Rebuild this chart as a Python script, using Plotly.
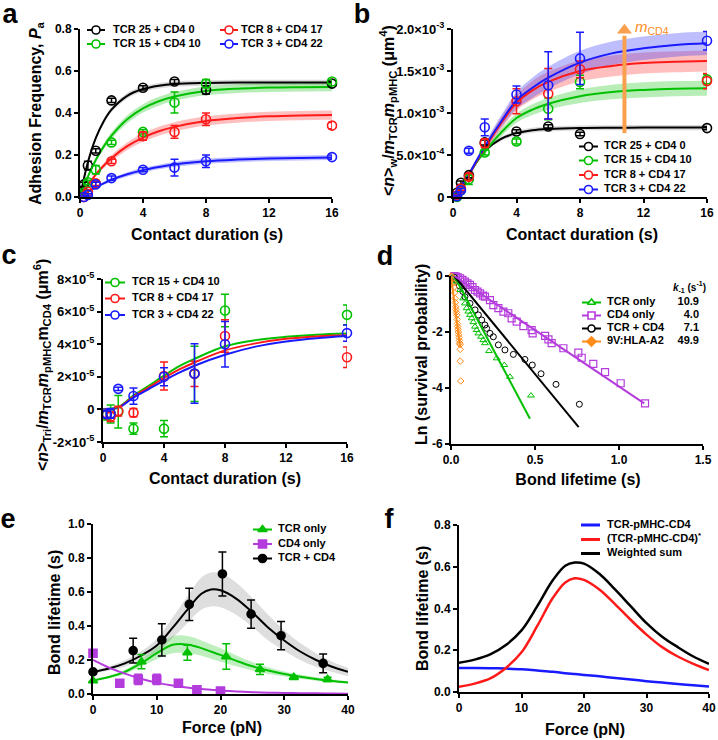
import numpy as np
import plotly.graph_objects as go

W, H = 718, 740
FONT = "Liberation Sans, Arial, Helvetica, sans-serif"

BLACK = "#000000"
GREEN = "#00C000"
RED = "#FF1A1A"
BLUE = "#1A1AFF"
PURPLE = "#B43CDC"
ORANGE = "#FF8C1A"
ARROWC = "#F9A04E"

# ---------------- Panel a : adhesion frequency ----------------
a_t = [0.25, 0.5, 1, 2, 4, 6, 8, 16]
a_black = [0.06, 0.15, 0.22, 0.46, 0.52, 0.55, 0.51, 0.54]
a_black_err = [0.01, 0.02, 0.01, 0.01, 0.01, 0.01, 0.02, 0.01]
a_green = [0.02, 0.07, 0.13, 0.26, 0.31, 0.45, 0.54, 0.55]
a_green_err = [0.01, 0.01, 0.02, 0.01, 0.01, 0.05, 0.02, 0.01]
a_red = [0.0, 0.025, 0.065, 0.17, 0.29, 0.31, 0.37, 0.34]
a_red_err = [0.005, 0.01, 0.01, 0.01, 0.02, 0.03, 0.03, 0.015]
a_blue = [0.0, 0.01, 0.06, 0.09, 0.13, 0.14, 0.17, 0.19]
a_blue_err = [0.005, 0.005, 0.01, 0.01, 0.01, 0.04, 0.03, 0.01]

a_fit_t = [0, 0.5, 1, 1.5, 2, 3, 4, 5, 6, 8, 10, 12, 14, 16]
a_fit_black = [0, 0.165, 0.280, 0.360, 0.416, 0.482, 0.514, 0.530, 0.538, 0.543, 0.545, 0.545, 0.545, 0.545]
a_fit_green = [0, 0.097, 0.176, 0.240, 0.292, 0.370, 0.422, 0.456, 0.479, 0.505, 0.516, 0.521, 0.523, 0.524]
a_fit_red = [0, 0.058, 0.107, 0.149, 0.185, 0.242, 0.283, 0.313, 0.334, 0.362, 0.376, 0.384, 0.388, 0.390]
a_fit_blue = [0, 0.025, 0.046, 0.065, 0.082, 0.108, 0.128, 0.143, 0.155, 0.170, 0.178, 0.183, 0.186, 0.188]
a_band_black = [0, 0.004, 0.008, 0.010, 0.012, 0.013, 0.013, 0.013, 0.013, 0.013, 0.013, 0.013, 0.013, 0.013]
a_band_green = [0, 0.005, 0.010, 0.013, 0.016, 0.019, 0.020, 0.021, 0.021, 0.021, 0.021, 0.021, 0.021, 0.021]
a_band_red = [0, 0.005, 0.009, 0.012, 0.015, 0.018, 0.020, 0.021, 0.022, 0.022, 0.022, 0.022, 0.022, 0.022]
a_band_blue = [0, 0.003, 0.005, 0.007, 0.008, 0.010, 0.011, 0.011, 0.012, 0.012, 0.012, 0.012, 0.012, 0.012]

# ---------------- Panel b : <n>w / mTCR mpMHC (x1e-3 um^4) ----------------
b_t = [0.25, 0.5, 1, 2, 4, 6, 8, 16]
b_black = [0.05, 0.17, 0.26, 0.65, 0.78, 0.84, 0.75, 0.82]
b_black_err = [0.01, 0.02, 0.03, 0.03, 0.02, 0.02, 0.02, 0.02]
b_green = [0.0, 0.08, 0.21, 0.53, 0.66, 1.05, 1.37, 1.40]
b_green_err = [0.01, 0.02, 0.06, 0.03, 0.03, 0.13, 0.08, 0.06]
b_red = [0.02, 0.10, 0.24, 0.64, 1.14, 1.23, 1.52, 1.38]
b_red_err = [0.01, 0.02, 0.04, 0.05, 0.15, 0.30, 0.10, 0.09]
b_blue = [0.01, 0.08, 0.55, 0.83, 1.22, 1.33, 1.65, 1.86]
b_blue_err = [0.01, 0.02, 0.03, 0.10, 0.10, 0.40, 0.31, 0.11]

b_fit_t = [0, 0.5, 1, 1.5, 2, 3, 4, 5, 6, 8, 10, 12, 14, 16]
b_fit_black = [0, 0.13, 0.27, 0.42, 0.55, 0.69, 0.76, 0.795, 0.81, 0.822, 0.825, 0.826, 0.826, 0.826]
b_fit_green = [0, 0.13, 0.27, 0.42, 0.54, 0.76, 0.94, 1.04, 1.11, 1.20, 1.25, 1.275, 1.29, 1.295]
b_fit_red = [0, 0.13, 0.27, 0.43, 0.58, 0.87, 1.12, 1.27, 1.37, 1.50, 1.56, 1.595, 1.61, 1.62]
b_fit_blue = [0, 0.13, 0.27, 0.44, 0.60, 0.89, 1.15, 1.30, 1.42, 1.60, 1.71, 1.77, 1.81, 1.83]
b_band_black = [0, 0.005, 0.01, 0.015, 0.02, 0.025, 0.03, 0.03, 0.03, 0.03, 0.03, 0.03, 0.03, 0.03]
b_band_green = [0, 0.005, 0.01, 0.02, 0.03, 0.045, 0.055, 0.065, 0.07, 0.08, 0.085, 0.09, 0.09, 0.09]
b_band_red = [0, 0.005, 0.01, 0.02, 0.04, 0.07, 0.09, 0.11, 0.12, 0.125, 0.125, 0.125, 0.125, 0.125]
b_band_blue = [0, 0.005, 0.01, 0.02, 0.04, 0.07, 0.10, 0.12, 0.13, 0.14, 0.14, 0.14, 0.14, 0.14]
b_arrow_t = [10.8, 10.8]
b_arrow_y = [0.76, 1.92]
b_arrow_tip_y = [1.985]

# ---------------- Panel c : <n>Tri / (mTCR mpMHC mCD4)  (x1e-5 um^6) ----------------
c_t = [0.25, 0.5, 1, 2, 4, 6, 8, 16]
c_green = [-0.35, -0.28, -0.14, -1.18, -1.18, 2.18, 6.07, 5.80]
c_green_err = [0.3, 0.55, 1.0, 0.35, 0.5, 1.7, 1.0, 0.6]
c_red = [-0.3, -0.45, -0.1, -0.2, 2.05, 2.18, 4.50, 3.20]
c_red_err = [0.2, 0.3, 0.3, 0.25, 0.86, 0.78, 1.0, 0.63]
c_blue = [-0.3, -0.25, 1.26, 0.82, 2.0, 2.2, 4.0, 4.68]
c_blue_err = [0.2, 0.3, 0.1, 0.5, 0.55, 1.83, 1.4, 0.5]

c_fit_t = [0, 1, 2, 3, 4, 5, 6, 8, 10, 12, 14, 16]
c_fit_green = [0, 0.15, 0.85, 1.45, 2.07, 2.65, 3.10, 3.87, 4.25, 4.45, 4.58, 4.65]
c_fit_red = [0, 0.12, 0.78, 1.35, 1.93, 2.45, 2.88, 3.62, 4.05, 4.33, 4.48, 4.55]
c_fit_blue = [0, 0.10, 0.72, 1.25, 1.77, 2.25, 2.68, 3.35, 3.85, 4.17, 4.37, 4.50]

# ---------------- Panel d : survival curves ----------------
d_green_x = [0.01, 0.02, 0.034, 0.054, 0.073, 0.083, 0.093, 0.103, 0.113, 0.123, 0.133, 0.143,
             0.153, 0.163, 0.179, 0.192, 0.202, 0.226, 0.272, 0.317, 0.351, 0.476]
d_green_y = [-0.03, -0.08, -0.20, -0.50, -0.80, -0.98, -1.15, -1.27, -1.39, -1.51, -1.65, -1.81,
             -1.93, -2.05, -2.17, -2.29, -2.40, -2.68, -2.94, -3.18, -3.60, -4.27]
d_black_x = [0.02, 0.03, 0.05, 0.07, 0.083, 0.113, 0.143, 0.163, 0.183, 0.202, 0.212, 0.232, 0.252,
             0.282, 0.321, 0.371, 0.440, 0.484, 0.536, 0.625, 0.764]
d_black_y = [-0.05, -0.15, -0.35, -0.55, -0.74, -0.98, -1.21, -1.39, -1.57, -1.75, -1.87, -2.05, -2.17,
             -2.46, -2.64, -2.80, -2.98, -3.18, -3.49, -3.87, -4.58]
d_purple_x = [0.02, 0.03, 0.04, 0.054, 0.068, 0.083, 0.098, 0.113, 0.128, 0.143, 0.158, 0.173, 0.19,
              0.202, 0.232, 0.252, 0.282, 0.312, 0.341, 0.361, 0.391, 0.431, 0.480, 0.486, 0.560,
              0.580, 0.599, 0.669, 0.758, 0.778, 0.847, 0.917, 1.010, 1.155]
d_purple_y = [0.0, -0.02, -0.05, -0.08, -0.14, -0.20, -0.26, -0.32, -0.40, -0.50, -0.56, -0.62, -0.70,
              -0.74, -0.86, -1.04, -1.15, -1.27, -1.33, -1.51, -1.63, -1.79, -1.93, -2.05, -2.14,
              -2.26, -2.40, -2.58, -2.74, -2.92, -3.14, -3.43, -3.83, -4.55]
d_orange_x = [0.0, 0.005, 0.010, 0.015, 0.018, 0.021, 0.024, 0.026, 0.028, 0.030, 0.032, 0.034, 0.036,
              0.038, 0.040, 0.042, 0.044, 0.046, 0.048, 0.050, 0.052, 0.054, 0.055, 0.055, 0.058]
d_orange_y = [0.0, -0.02, -0.10, -0.25, -0.40, -0.60, -0.80, -0.95, -1.10, -1.20, -1.30, -1.40, -1.55,
              -1.70, -1.80, -1.90, -2.00, -2.10, -2.20, -2.30, -2.40, -2.45, -2.62, -3.04, -3.75]
d_green_fit_x = [0.02, 0.47]
d_green_fit_y = [0.0, -5.1]
d_black_fit_x = [0.02, 0.76]
d_black_fit_y = [0.0, -5.4]
d_purple_fit_x = [0.02, 1.15]
d_purple_fit_y = [0.0, -4.55]
d_orange_fit_x = [0.0, 0.054]
d_orange_fit_y = [0.0, -2.52]
d_names = ["TCR only", "CD4 only", "TCR + CD4", "9V:HLA-A2"]
d_koff = ["10.9", "4.0", "7.1", "49.9"]

# ---------------- Panel e : bond lifetime vs force ----------------
e_black_x = [0, 6.3, 10.8, 15.1, 20.3, 24.8, 29.5, 36.1]
e_black_y = [0.13, 0.255, 0.318, 0.527, 0.706, 0.47, 0.343, 0.18]
e_black_err = [0.01, 0.073, 0.095, 0.095, 0.13, 0.083, 0.083, 0.055]
e_green_x = [0, 7.6, 14.8, 20.9, 26.2, 31.5, 36.8]
e_green_y = [0.078, 0.19, 0.243, 0.22, 0.145, 0.098, 0.086]
e_green_err = [0.005, 0.042, 0.044, 0.075, 0.03, 0.008, 0.012]
e_purple_x = [0, 4.2, 7.1, 10.0, 13.4, 16.3, 20.0]
e_purple_y = [0.24, 0.063, 0.086, 0.086, 0.063, 0.024, 0.018]
e_purple_err = [0.01, 0.005, 0.03, 0.03, 0.01, 0.005, 0.005]

ef_fit_f = [0, 2.5, 5, 7.5, 10, 12.5, 15, 17, 18.5, 20, 22.5, 25, 27.5, 30, 32.5, 35, 37.5, 40]
e_fit_black = [0.13, 0.15, 0.18, 0.225, 0.285, 0.39, 0.505, 0.59, 0.615, 0.61, 0.56, 0.48, 0.39,
               0.315, 0.25, 0.20, 0.16, 0.13]
e_fit_green = [0.08, 0.10, 0.13, 0.18, 0.24, 0.29, 0.29, 0.27, 0.25, 0.23, 0.195, 0.163, 0.138,
               0.118, 0.102, 0.088, 0.077, 0.068]
e_fit_purple = [0.20, 0.155, 0.12, 0.09, 0.067, 0.05, 0.037, 0.03, 0.025, 0.02, 0.015, 0.011, 0.008,
                0.006, 0.005, 0.004, 0.003, 0.002]
e_band_black = [0.01, 0.012, 0.018, 0.025, 0.04, 0.06, 0.08, 0.095, 0.10, 0.10, 0.095, 0.085, 0.075,
                0.06, 0.05, 0.04, 0.03, 0.025]
e_band_green = [0.005, 0.008, 0.012, 0.02, 0.035, 0.05, 0.05, 0.045, 0.042, 0.04, 0.032, 0.025, 0.02,
                0.015, 0.012, 0.01, 0.008, 0.007]

# ---------------- Panel f : model curves ----------------
f_blue = [0.115, 0.115, 0.114, 0.112, 0.109, 0.103, 0.097, 0.090, 0.086, 0.082, 0.075, 0.067, 0.060,
          0.052, 0.045, 0.038, 0.032, 0.026]
f_red = [0.025, 0.04, 0.065, 0.115, 0.19, 0.315, 0.45, 0.525, 0.545, 0.537, 0.49, 0.42, 0.345,
         0.275, 0.215, 0.17, 0.135, 0.105]
f_black = [0.14, 0.155, 0.18, 0.225, 0.295, 0.41, 0.535, 0.605, 0.62, 0.615, 0.565, 0.49, 0.41,
           0.33, 0.265, 0.215, 0.17, 0.135]

# tick labels
ticks_t = [0, 4, 8, 12, 16]
ticks_t_text = ["0", "4", "8", "12", "16"]
a_yticks = [0, 0.2, 0.4, 0.6, 0.8]
a_yticks_text = ["0.0", "0.2", "0.4", "0.6", "0.8"]
b_yticks = [0, 0.5, 1.0, 1.5, 2.0]
b_yticks_text = ["0", "5.0×10<sup>-4</sup>", "1.0×10<sup>-3</sup>", "1.5×10<sup>-3</sup>", "2.0×10<sup>-3</sup>"]
c_yticks = [-2, 0, 2, 4, 6, 8]
c_yticks_text = ["-2×10<sup>-5</sup>", "0", "2×10<sup>-5</sup>", "4×10<sup>-5</sup>", "6×10<sup>-5</sup>", "8×10<sup>-5</sup>"]
d_xticks = [0, 0.5, 1.0, 1.5]
d_xticks_text = ["0.0", "0.5", "1.0", "1.5"]
d_yticks = [0, -2, -4, -6]
d_yticks_text = ["0", "-2", "-4", "-6"]
ef_xticks = [0, 10, 20, 30, 40]
ef_xticks_text = ["0", "10", "20", "30", "40"]
e_yticks = [0, 0.2, 0.4, 0.6, 0.8, 1.0]
e_yticks_text = ["0.0", "0.2", "0.4", "0.6", "0.8", "1.0"]
f_yticks = [0, 0.2, 0.4, 0.6, 0.8]
f_yticks_text = ["0.0", "0.2", "0.4", "0.6", "0.8"]

# ======================================================================
fig = go.Figure()


def band(x, y, hw, color, ax):
    y = np.asarray(y, float)
    hw = np.asarray(hw, float)
    xa, ya = ax
    fig.add_trace(go.Scatter(x=x, y=y + hw, mode="lines", line=dict(width=0, shape="spline"),
                             xaxis=xa, yaxis=ya, showlegend=False, hoverinfo="skip"))
    fig.add_trace(go.Scatter(x=x, y=y - hw, mode="lines", line=dict(width=0, shape="spline"),
                             fill="tonexty", fillcolor=color, xaxis=xa, yaxis=ya,
                             showlegend=False, hoverinfo="skip"))


def curve(x, y, color, ax, width=2, shape="spline"):
    fig.add_trace(go.Scatter(x=x, y=y, mode="lines", line=dict(color=color, width=width, shape=shape),
                             xaxis=ax[0], yaxis=ax[1], showlegend=False, hoverinfo="skip",
                             cliponaxis=False))


def points(x, y, color, ax, symbol="circle-open", size=9, err=None, lw=1.6):
    kw = {}
    if err is not None:
        kw["error_y"] = dict(type="data", array=err, color=color, thickness=1.5, width=4)
    fig.add_trace(go.Scatter(x=x, y=y, mode="markers",
                             marker=dict(symbol=symbol, size=size, color=color,
                                         line=dict(color=color, width=lw)),
                             xaxis=ax[0], yaxis=ax[1], showlegend=False, cliponaxis=False, **kw))


A = ("x", "y"); B = ("x2", "y2"); C = ("x3", "y3"); D = ("x4", "y4"); E = ("x5", "y5"); F = ("x6", "y6")

# panel a
band(a_fit_t, a_fit_black, a_band_black, "rgba(0,0,0,0.14)", A)
band(a_fit_t, a_fit_green, a_band_green, "rgba(0,192,0,0.28)", A)
band(a_fit_t, a_fit_red, a_band_red, "rgba(255,0,0,0.25)", A)
band(a_fit_t, a_fit_blue, a_band_blue, "rgba(0,0,255,0.25)", A)
curve(a_fit_t, a_fit_black, BLACK, A)
curve(a_fit_t, a_fit_green, GREEN, A)
curve(a_fit_t, a_fit_red, RED, A)
curve(a_fit_t, a_fit_blue, BLUE, A)
points(a_t, a_black, BLACK, A, err=a_black_err)
points(a_t, a_green, GREEN, A, err=a_green_err)
points(a_t, a_red, RED, A, err=a_red_err)
points(a_t, a_blue, BLUE, A, err=a_blue_err)

# panel b
band(b_fit_t, b_fit_black, b_band_black, "rgba(0,0,0,0.14)", B)
band(b_fit_t, b_fit_green, b_band_green, "rgba(0,192,0,0.28)", B)
band(b_fit_t, b_fit_red, b_band_red, "rgba(255,0,0,0.25)", B)
band(b_fit_t, b_fit_blue, b_band_blue, "rgba(40,40,255,0.3)", B)
curve(b_fit_t, b_fit_black, BLACK, B)
curve(b_fit_t, b_fit_green, GREEN, B)
curve(b_fit_t, b_fit_red, RED, B)
curve(b_fit_t, b_fit_blue, BLUE, B)
# orange arrow (m_CD4 direction)
fig.add_trace(go.Scatter(x=b_arrow_t, y=b_arrow_y, mode="lines", line=dict(color=ARROWC, width=4),
                         xaxis="x2", yaxis="y2", showlegend=False, hoverinfo="skip", cliponaxis=False))
fig.add_trace(go.Scatter(x=b_arrow_t[:1], y=b_arrow_tip_y, mode="markers",
                         marker=dict(symbol="triangle-up", size=13, color=ARROWC, line=dict(width=0)),
                         xaxis="x2", yaxis="y2", showlegend=False, hoverinfo="skip", cliponaxis=False))
points(b_t, b_black, BLACK, B, err=b_black_err)
points(b_t, b_green, GREEN, B, err=b_green_err)
points(b_t, b_red, RED, B, err=b_red_err)
points(b_t, b_blue, BLUE, B, err=b_blue_err)

# panel c
curve(c_fit_t, c_fit_green, GREEN, C)
curve(c_fit_t, c_fit_red, RED, C)
curve(c_fit_t, c_fit_blue, BLUE, C)
points(c_t, c_green, GREEN, C, err=c_green_err)
points(c_t, c_red, RED, C, err=c_red_err)
points(c_t, c_blue, BLUE, C, err=c_blue_err)

# panel d
points(d_purple_x, d_purple_y, PURPLE, D, symbol="square-open", size=7, lw=1.2)
points(d_black_x, d_black_y, BLACK, D, symbol="circle-open", size=6, lw=1.0)
points(d_green_x, d_green_y, GREEN, D, symbol="triangle-up-open", size=6, lw=1.0)
points(d_orange_x, d_orange_y, ORANGE, D, symbol="diamond-open", size=5, lw=1.0)
curve(d_green_fit_x, d_green_fit_y, GREEN, D, shape="linear")
curve(d_black_fit_x, d_black_fit_y, BLACK, D, shape="linear")
curve(d_purple_fit_x, d_purple_fit_y, PURPLE, D, shape="linear")
curve(d_orange_fit_x, d_orange_fit_y, ORANGE, D, shape="linear")

# panel e
band(ef_fit_f, e_fit_black, e_band_black, "rgba(0,0,0,0.13)", E)
band(ef_fit_f, e_fit_green, e_band_green, "rgba(0,192,0,0.25)", E)
curve(ef_fit_f, e_fit_black, BLACK, E)
curve(ef_fit_f, e_fit_green, GREEN, E)
curve(ef_fit_f, e_fit_purple, PURPLE, E)
points(e_black_x, e_black_y, BLACK, E, symbol="circle", size=8, err=e_black_err)
points(e_green_x, e_green_y, GREEN, E, symbol="triangle-up", size=8, err=e_green_err)
points(e_purple_x, e_purple_y, PURPLE, E, symbol="square", size=8, err=e_purple_err)

# panel f
curve(ef_fit_f, f_blue, BLUE, F, width=2.5)
curve(ef_fit_f, f_red, RED, F, width=2.5)
curve(ef_fit_f, f_black, BLACK, F, width=2.5)

# ---------------- texts & legends (overlay in pixel coordinates) ----------------
annotations = []
LEG_SIZE = 11
POS = {"left": "middle right", "right": "middle left", "center": "middle center"}


def txt(x, y, text, size=LEG_SIZE, xanchor="left", color="black", bold=True):
    fig.add_trace(go.Scatter(x=[x], y=[y], mode="text", text=[("<b>%s</b>" % text) if bold else text],
                             textposition=POS[xanchor],
                             textfont=dict(family=FONT, size=size, color=color),
                             xaxis="x7", yaxis="y7", showlegend=False, hoverinfo="skip",
                             cliponaxis=False))


def vtxt(x, y, text, size=16):
    annotations.append(dict(x=x / W, y=1 - y / H, xref="paper", yref="paper",
                            text="<b>%s</b>" % text, showarrow=False, xanchor="center",
                            yanchor="middle", textangle=-90,
                            font=dict(family=FONT, size=size, color="black")))


def leg(x0, x1, y, color, label, xt, symbol=None, size=8, white=True, lw=2):
    fig.add_trace(go.Scatter(x=[x0, x1], y=[y, y], mode="lines", line=dict(color=color, width=lw),
                             xaxis="x7", yaxis="y7", showlegend=False, hoverinfo="skip"))
    if symbol:
        fig.add_trace(go.Scatter(x=[(x0 + x1) / 2], y=[y], mode="markers",
                                 marker=dict(symbol=symbol, size=size,
                                             color="white" if white else color,
                                             line=dict(color=color, width=1.6)),
                                 xaxis="x7", yaxis="y7", showlegend=False, hoverinfo="skip"))
    txt(xt - 3, y, label)


# a
leg(87, 105, 30, BLACK, "TCR 25 + CD4 0", 116, "circle")
leg(87, 105, 44, GREEN, "TCR 15 + CD4 10", 116, "circle")
leg(220, 238, 30, RED, "TCR 8 + CD4 17", 244, "circle")
leg(220, 238, 44, BLUE, "TCR 3 + CD4 22", 244, "circle")
# b
for yy, col, lab in zip([146.5, 160.5, 175, 189.5], [BLACK, GREEN, RED, BLUE],
                        ["TCR 25 + CD4 0", "TCR 15 + CD4 10", "TCR 8 + CD4 17", "TCR 3 + CD4 22"]):
    leg(579, 598, yy, col, lab, 607, "circle")
# c
for yy, col, lab in zip([282.5, 298.5, 315], [GREEN, RED, BLUE],
                        ["TCR 15 + CD4 10", "TCR 8 + CD4 17", "TCR 3 + CD4 22"]):
    leg(105, 125, yy, col, lab, 135, "circle")
# d
d_leg_sym = ["triangle-up", "square", "circle", "diamond"]
d_leg_col = [GREEN, PURPLE, BLACK, ORANGE]
d_leg_y = [302.5, 315.5, 328.5, 341.5]
for yy, col, lab, sym, val in zip(d_leg_y, d_leg_col, d_names, d_leg_sym, d_koff):
    leg(582, 601, yy, col, lab, 610, sym, size=7, white=(sym != "diamond"))
    txt(699, yy, val, xanchor="right")
txt(706, 288, "<i>k</i><sub>-1</sub> (s<sup>-1</sup>)", size=10, xanchor="right")
# e
for yy, col, lab, sym in zip([529.5, 544, 558.5], [GREEN, PURPLE, BLACK],
                             ["TCR only", "CD4 only", "TCR + CD4"],
                             ["triangle-up", "square", "circle"]):
    leg(253, 272, yy, col, lab, 281, sym, size=8, white=False)
# f
for yy, col, lab in zip([525, 539.5, 553.5], [BLUE, RED, BLACK],
                        ["TCR-pMHC-CD4", "(TCR-pMHC-CD4)<sup>*</sup>", "Weighted sum"]):
    leg(581, 600, yy, col, lab, 610, None, lw=3)

# panel letters
for lx, ly, L in [(10, 16, "a"), (362, 16, "b"), (9, 257, "c"), (385, 258, "d"), (8, 521, "e"), (389, 521, "f")]:
    txt(lx, ly, L, size=27, xanchor="center")

# axis titles
TS = 16
txt(207, 236, "Contact duration (s)", size=TS, xanchor="center")
txt(582, 236, "Contact duration (s)", size=TS, xanchor="center")
txt(225, 480, "Contact duration (s)", size=TS, xanchor="center")
txt(578, 481, "Bond lifetime (s)", size=TS, xanchor="center")
txt(222, 729, "Force (pN)", size=TS, xanchor="center")
txt(585, 731, "Force (pN)", size=TS, xanchor="center")
vtxt(36, 113, "Adhesion Frequency, <i>P</i><sub>a</sub>")
vtxt(388, 110, "&lt;<i>n</i>&gt;<sub>w</sub>/<i>m</i><sub>TCR</sub><i>m</i><sub>pMHC</sub> (μm<sup>4</sup>)")
vtxt(42, 365, "&lt;<i>n</i>&gt;<sub>Tri</sub>/<i>m</i><sub>TCR</sub><i>m</i><sub>pMHC</sub>m<sub>CD4</sub> (μm<sup>6</sup>)")
vtxt(421, 355, "Ln (survival probability)")
vtxt(54, 613, "Bond lifetime (s)")
vtxt(422, 609, "Bond lifetime (s)")

# m_CD4 label
txt(635, 28, "<i>m</i><sub>CD4</sub>", size=15, color=ORANGE, bold=False)


# ---------------- axes ----------------
def xax(px0, px1, rng, tv, tt, anchor, fs=12):
    return dict(domain=[px0 / W, px1 / W], range=rng, tickvals=tv, ticktext=tt, anchor=anchor,
                showline=True, linecolor="black", linewidth=2, ticks="outside", ticklen=4,
                tickwidth=2, tickcolor="black", showgrid=False, zeroline=False, automargin=False,
                tickfont=dict(family=FONT, size=fs, color="black", weight="bold"))


def yax(py_top, py_bot, rng, tv, tt, anchor, fs=12):
    d = xax(0, 1, rng, tv, tt, anchor, fs)
    d["domain"] = [1 - py_bot / H, 1 - py_top / H]
    return d


layout = dict(
    width=W, height=H, autosize=False,
    margin=dict(l=0, r=0, t=0, b=0, pad=0, autoexpand=False),
    paper_bgcolor="white", plot_bgcolor="rgba(0,0,0,0)",
    showlegend=False,
    font=dict(family=FONT, color="black"),
    xaxis=xax(80, 332, [0, 16], ticks_t, ticks_t_text, "y"),
    yaxis=yax(29, 197, [0, 0.8], a_yticks, a_yticks_text, "x"),
    xaxis2=xax(453, 707, [0, 16], ticks_t, ticks_t_text, "y2"),
    yaxis2=yax(29, 197, [0, 2.0], b_yticks, b_yticks_text, "x2", fs=13),
    xaxis3=xax(103, 347, [0, 16], ticks_t, ticks_t_text, "y3"),
    yaxis3=yax(279, 442, [-2, 8], c_yticks, c_yticks_text, "x3", fs=13),
    xaxis4=xax(451, 703, [0, 1.5], d_xticks, d_xticks_text, "y4"),
    yaxis4=yax(276, 444, [-6, 0], d_yticks, d_yticks_text, "x4"),
    xaxis5=xax(93, 348, [0, 40], ef_xticks, ef_xticks_text, "y5"),
    yaxis5=yax(524, 694, [0, 1.0], e_yticks, e_yticks_text, "x5"),
    xaxis6=xax(459, 709, [0, 40], ef_xticks, ef_xticks_text, "y6"),
    yaxis6=yax(525, 692, [0, 0.8], f_yticks, f_yticks_text, "x6"),
    xaxis7=dict(domain=[0, 1], range=[0, W], visible=False, anchor="y7", fixedrange=True, automargin=False),
    yaxis7=dict(domain=[0, 1], range=[H, 0], visible=False, anchor="x7", fixedrange=True, automargin=False),
    annotations=annotations,
)
fig.update_layout(**layout)
fig.write_html("out.html", config={"displayModeBar": False, "staticPlot": True},
               post_script="document.body.style.margin='0px';document.body.style.overflow='hidden';")
